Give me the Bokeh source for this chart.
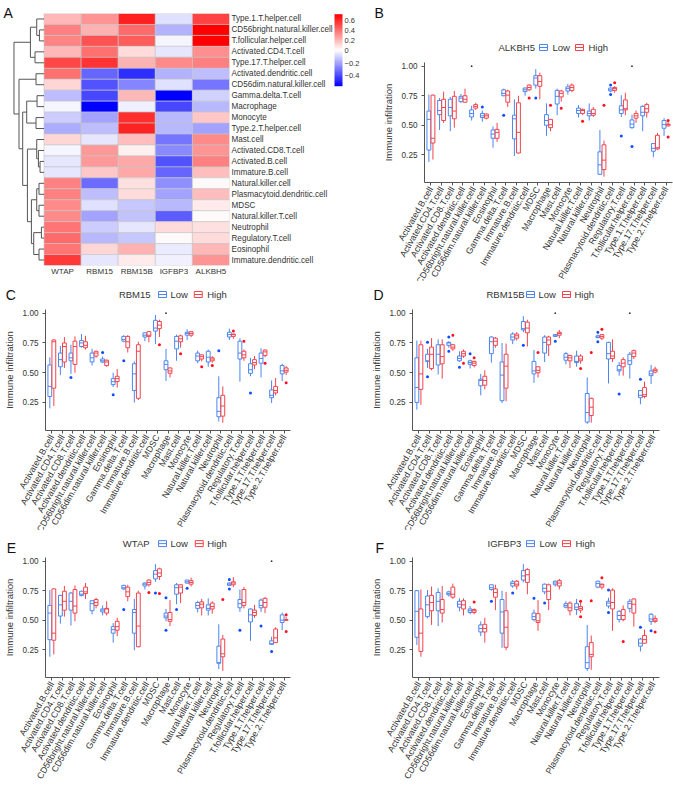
from bokeh.plotting import figure
from bokeh.layouts import row, column
from bokeh.models import (Range1d, FixedTicker, LinearAxis, LinearColorMapper, ColorBar, ColumnDataSource)
from bokeh.core.properties import value
from bokeh.embed import file_html
from bokeh.resources import INLINE

FONT = "Liberation Sans"
genes = ["WTAP", "RBM15", "RBM15B", "IGFBP3", "ALKBH5"]
heat_rows = ["Type.1.T.helper.cell", "CD56bright.natural.killer.cell", "T.follicular.helper.cell",
             "Activated.CD4.T.cell", "Type.17.T.helper.cell", "Activated.dendritic.cell",
             "CD56dim.natural.killer.cell", "Gamma.delta.T.cell", "Macrophage", "Monocyte",
             "Type.2.T.helper.cell", "Mast.cell", "Activated.CD8.T.cell", "Activated.B.cell",
             "Immature.B.cell", "Natural.killer.cell", "Plasmacytoid.dendritic.cell", "MDSC",
             "Natural.killer.T.cell", "Neutrophil", "Regulatory.T.cell", "Eosinophil",
             "Immature.dendritic.cell"]
heat_values = [
    [.20, .30, .63, -.07, .53], [.36, .22, .42, -.17, .72], [.34, .48, .46, -.02, .72],
    [.20, .40, .10, -.05, .32], [.52, .57, .22, .33, .35], [.40, -.33, -.46, -.17, -.14],
    [.12, -.38, -.27, -.07, -.30], [-.14, -.40, .20, -.56, -.10], [-.02, -.56, -.03, -.40, -.16],
    [-.11, -.20, .58, -.16, .15], [-.18, -.14, .61, -.16, -.20], [.12, -.05, .18, -.30, .33],
    [-.02, .28, .04, -.25, .30], [-.05, .28, .24, -.38, .36], [-.06, .15, .24, -.33, .18],
    [.35, -.32, .09, -.24, .01], [.35, -.14, .10, -.20, .18], [.33, -.07, -.12, -.15, .06],
    [.33, -.20, -.13, -.35, .01], [.38, -.11, -.05, .10, .08], [.42, -.15, -.12, .01, .10],
    [.38, .12, .22, -.04, .20], [.55, -.05, .05, -.03, .30]]
# merge tree of the row dendrogram: (first leaf/node, second leaf/node, height)
dend_merges = [("L1", "L2", .153), ("L0", "N0", .243), ("L3", "L4", .30), ("N1", "N2", .453),
               ("L5", "L6", .267), ("L7", "L8", .233), ("L9", "L10", .267), ("N5", "N6", .577),
               ("L13", "L14", .133), ("L12", "N8", .187), ("L11", "N9", .243),
               ("L15", "L16", .167), ("L17", "L18", .167), ("N11", "N12", .243),
               ("L19", "L20", .087), ("L21", "L22", .167), ("N14", "N15", .343),
               ("N13", "N16", .42), ("N10", "N17", .553), ("N7", "N18", .71),
               ("N4", "N19", .833), ("N3", "N20", 1.0)]
cb_ticks = [-.4, -.2, 0, .2, .4, .6]
cb_labels = ["\u22120.4", "\u22120.2", "0", "0.2", "0.4", "0.6"]

cells = ["Activated.B.cell", "Activated.CD4.T.cell", "Activated.CD8.T.cell", "Activated.dendritic.cell",
         "CD56bright.natural.killer.cell", "CD56dim.natural.killer.cell", "Eosinophil", "Gamma.delta.T.cell",
         "Immature.B.cell", "Immature.dendritic.cell", "MDSC", "Macrophage", "Mast.cell", "Monocyte",
         "Natural.killer.T.cell", "Natural.killer.cell", "Neutrophil", "Plasmacytoid.dendritic.cell",
         "Regulatory.T.cell", "T.follicular.helper.cell", "Type.1.T.helper.cell", "Type.17.T.helper.cell",
         "Type.2.T.helper.cell"]

# each box: whisker low, q1, median, q3, whisker high
B_low = [[.19,.29,.55,.62,.76],[.46,.59,.625,.71,.73],[.45,.58,.65,.72,.74],[.69,.70,.73,.745,.765],[.54,.57,.60,.63,.665],[.53,.565,.58,.60,.625],[.31,.39,.425,.46,.49],[.745,.75,.77,.80,.81],[.24,.385,.555,.585,.72],[.75,.785,.80,.815,.82],[.81,.84,.90,.92,.975],[.41,.50,.54,.59,.685],[.585,.68,.745,.795,.81],[.76,.79,.81,.825,.85],[.565,.60,.625,.645,.67],[.54,.58,.60,.62,.685],[.08,.085,.165,.275,.46],[.78,.79,.80,.815,.82],[.57,.60,.63,.665,.755],[.47,.48,.51,.545,.59],[.45,.58,.61,.66,.67],[.23,.28,.305,.345,.35],[.41,.475,.505,.54,.56]]
B_high = [[.21,.35,.39,.755,.76],[.52,.54,.65,.72,.785],[.48,.555,.62,.745,.79],[.69,.695,.72,.75,.81],[.63,.645,.66,.675,.69],[.55,.56,.58,.595,.60],[.36,.39,.44,.465,.52],[.655,.695,.755,.79,.80],[.26,.265,.44,.69,.75],[.79,.80,.82,.84,.845],[.72,.83,.87,.92,.945],[.45,.48,.505,.55,.55],[.70,.74,.77,.79,.80],[.78,.795,.82,.84,.855],[.585,.60,.625,.635,.64],[.57,.585,.60,.635,.655],[.065,.125,.205,.335,.37],[.775,.795,.81,.82,.83],[.585,.63,.64,.715,.775],[.52,.56,.58,.60,.625],[.565,.61,.64,.675,.69],[.29,.30,.31,.415,.435],[.49,.495,.505,.51,.535]]
B_low_out = [(6,.655),(8,.585),(11,.73),(18,.84),(18,.76),(19,.41),(20,.32)]
B_high_out = [(10,.73),(12,.67),(13,.645),(15,.535),(17,.67),(18,.86),(23,.54),(23,.40)]
B_tiny = [(5,1.0),(20,1.0)]

C_low = [[.20,.30,.385,.565,.63],[.48,.55,.61,.665,.725],[.49,.60,.625,.665,.735],[.71,.72,.75,.77,.825],[.56,.59,.625,.665,.70],[.58,.59,.60,.615,.635],[.38,.40,.425,.45,.50],[.755,.765,.78,.805,.815],[.25,.35,.49,.575,.595],[.765,.80,.815,.835,.84],[.74,.85,.875,.94,.985],[.43,.525,.57,.60,.70],[.60,.70,.765,.805,.82],[.775,.815,.83,.84,.865],[.58,.60,.64,.665,.685],[.55,.59,.63,.68,.695],[.09,.13,.175,.29,.47],[.775,.80,.82,.84,.87],[.425,.615,.665,.765,.79],[.47,.495,.525,.575,.625],[.46,.58,.62,.665,.705],[.245,.29,.31,.355,.435],[.43,.49,.515,.56,.575]]
C_high = [[.22,.37,.76,.775,.78],[.54,.59,.72,.75,.80],[.50,.57,.72,.765,.805],[.695,.71,.73,.76,.81],[.625,.64,.665,.68,.685],[.55,.56,.59,.605,.61],[.375,.425,.45,.47,.53],[.67,.71,.76,.805,.815],[.27,.285,.68,.735,.76],[.755,.805,.815,.845,.85],[.80,.87,.90,.93,.945],[.46,.495,.515,.54,.545],[.71,.76,.785,.81,.82],[.80,.815,.83,.845,.85],[.595,.615,.635,.65,.655],[.585,.60,.615,.625,.64],[.08,.135,.22,.31,.385],[.785,.805,.82,.825,.825],[.60,.625,.65,.68,.695],[.53,.565,.585,.61,.64],[.63,.645,.675,.69,.695],[.31,.33,.35,.385,.455],[.48,.505,.52,.54,.555]]
C_low_out = [(3,.46),(6,.67),(7,.315),(8,.60),(17,.685),(20,.33)]
C_high_out = [(11,.735),(13,.66),(15,.55),(16,.56),(18,.85),(19,.765),(21,.58),(23,.415)]
C_tiny = [(12,1.0)]

D_low = [[.19,.25,.375,.625,.77],[.54,.595,.60,.655,.70],[.485,.565,.655,.735,.78],[.71,.73,.75,.755,.765],[.59,.60,.62,.64,.68],[.535,.57,.585,.60,.61],[.31,.39,.435,.445,.49],[.585,.66,.76,.80,.805],[.245,.265,.48,.59,.75],[.74,.775,.80,.825,.84],[.84,.86,.87,.93,.975],[.415,.49,.515,.595,.69],[.59,.665,.755,.80,.815],[.80,.805,.81,.82,.82],[.57,.605,.63,.66,.675],[.55,.585,.595,.64,.685],[.07,.085,.165,.325,.46],[.79,.795,.80,.81,.82],[.41,.615,.66,.755,.76],[.475,.515,.525,.56,.59],[.45,.57,.60,.655,.675],[.235,.29,.31,.35,.35],[.405,.475,.49,.515,.565]]
D_high = [[.23,.36,.49,.735,.77],[.52,.535,.655,.715,.79],[.45,.575,.635,.735,.78],[.685,.70,.715,.735,.74],[.625,.64,.66,.68,.695],[.545,.56,.58,.595,.60],[.36,.395,.435,.47,.52],[.71,.73,.765,.79,.80],[.26,.37,.555,.655,.745],[.77,.79,.81,.825,.84],[.72,.835,.875,.925,.945],[.46,.50,.52,.55,.555],[.64,.735,.775,.80,.81],[.79,.815,.83,.84,.86],[.54,.60,.625,.645,.65],[.575,.60,.615,.64,.655],[.08,.14,.21,.285,.29],[.775,.79,.805,.82,.825],[.59,.62,.64,.68,.78],[.475,.55,.58,.61,.63],[.615,.635,.665,.685,.695],[.285,.30,.315,.375,.425],[.495,.505,.52,.53,.55]]
D_low_out = [(2,.755),(2,.465),(4,.80),(4,.68),(5,.545),(6,.66),(11,.73),(14,.765),(18,.84),(18,.76),(20,.32),(22,.445)]
D_high_out = [(4,.815),(5,.58),(6,.625),(12,.67),(16,.535),(17,.67),(18,.865)]
D_tiny = [(14,1.0),(21,1.0)]

E_low = [[.19,.335,.56,.625,.755],[.47,.535,.63,.71,.715],[.455,.585,.66,.73,.74],[.70,.71,.72,.745,.75],[.55,.58,.64,.665,.67],[.54,.57,.585,.595,.625],[.31,.39,.42,.445,.475],[.755,.765,.775,.795,.80],[.245,.39,.565,.59,.68],[.76,.79,.805,.815,.82],[.825,.85,.89,.92,.975],[.49,.52,.535,.56,.595],[.635,.72,.775,.80,.815],[.81,.815,.825,.84,.84],[.565,.60,.625,.65,.665],[.54,.585,.60,.63,.685],[.085,.135,.14,.28,.465],[.79,.795,.805,.815,.82],[.57,.605,.64,.675,.76],[.325,.485,.545,.595,.60],[.57,.605,.625,.67,.685],[.295,.295,.30,.325,.36],[.415,.48,.50,.545,.565]]
E_high = [[.21,.33,.39,.765,.77],[.53,.585,.66,.745,.79],[.49,.56,.62,.76,.795],[.68,.725,.74,.78,.815],[.60,.625,.65,.675,.69],[.54,.56,.595,.60,.66],[.365,.415,.445,.49,.52],[.66,.70,.74,.78,.80],[.27,.275,.45,.73,.75],[.785,.80,.82,.84,.845],[.84,.87,.90,.935,.945],[.45,.49,.505,.565,.67],[.645,.73,.78,.80,.805],[.785,.805,.82,.835,.86],[.54,.605,.635,.655,.68],[.555,.595,.615,.645,.66],[.07,.19,.215,.34,.375],[.78,.80,.815,.825,.865],[.60,.625,.65,.76,.78],[.52,.54,.565,.585,.63],[.56,.61,.65,.685,.695],[.31,.31,.35,.425,.44],[.495,.50,.50,.505,.53]]
E_low_out = [(8,.59),(11,.73),(12,.69),(12,.415),(13,.59),(14,.77),(18,.845),(18,.765),(19,.415),(21,.45),(22,.235)]
E_high_out = [(10,.735),(11,.725),(17,.675),(23,.545),(23,.405)]
E_tiny = [(22,1.0)]

F_low = [[.29,.355,.575,.75,.755],[.515,.53,.63,.705,.755],[.45,.58,.66,.735,.77],[.70,.715,.725,.74,.75],[.575,.61,.635,.66,.685],[.55,.565,.58,.595,.62],[.365,.40,.43,.46,.49],[.75,.76,.775,.80,.80],[.265,.39,.57,.675,.75],[.775,.79,.81,.825,.84],[.82,.84,.875,.92,.975],[.49,.505,.53,.56,.59],[.72,.74,.77,.805,.81],[.785,.80,.815,.83,.835],[.60,.61,.625,.64,.66],[.545,.59,.61,.64,.68],[.07,.09,.14,.275,.46],[.77,.78,.81,.83,.835],[.60,.62,.645,.66,.69],[.48,.505,.54,.575,.585],[.565,.60,.64,.66,.68],[.235,.28,.305,.34,.35],[.46,.49,.51,.55,.56]]
F_high = [[.19,.235,.39,.595,.76],[.46,.58,.65,.71,.785],[.48,.56,.59,.675,.79],[.68,.695,.72,.78,.81],[.54,.595,.63,.665,.685],[.55,.565,.58,.59,.60],[.31,.40,.43,.465,.52],[.585,.695,.735,.765,.80],[.245,.27,.44,.58,.74],[.76,.79,.805,.83,.84],[.72,.82,.885,.93,.94],[.41,.48,.495,.555,.67],[.585,.675,.745,.80,.81],[.76,.79,.815,.835,.85],[.54,.58,.605,.645,.66],[.56,.585,.60,.615,.65],[.08,.19,.21,.31,.37],[.76,.78,.80,.805,.81],[.41,.595,.65,.755,.77],[.49,.505,.54,.59,.625],[.445,.56,.635,.68,.685],[.30,.305,.335,.37,.42],[.475,.49,.50,.515,.54]]
F_low_out = [(8,.66),(10,.73),(12,.685),(13,.645),(19,.755),(19,.565),(22,.44),(23,.41)]
F_high_out = [(6,.655),(16,.66),(16,.53),(17,.665),(18,.86),(20,.32),(23,.40)]
F_tiny = []

LOW, HIGH = "#4b86f0", "#f4434c"
LOW_PT, HIGH_PT = "#0f4dff", "#ff1020"
AXC = "#555555"
TXT = "#333333"


def free_text(p, x, y, s, size, color=TXT):
    p.text([x], [y], text=[s], text_font=value(FONT), text_font_size=value(size), text_color=color,
           text_align="left", text_baseline="middle", level="overlay")


def panel(gene, tag, low, high, low_out, high_out, tiny, W, H, left, right, top, bottom,
          y100_offset, unit, gene_x, key_xs, text_xs, leg_y, letter_xy):
    fw, fh = W - left - right, H - top - bottom
    ytop = 1 + y100_offset / unit
    ybot = ytop - fh / unit
    p = figure(width=W, height=H, output_backend="svg", toolbar_location=None,
               x_range=Range1d(0.4, 23.6), y_range=Range1d(ybot, ytop),
               min_border_left=left, min_border_right=right, min_border_top=top, min_border_bottom=bottom,
               background_fill_color="white", border_fill_color="white", outline_line_color=None,
               frame_align=False)
    p.grid.visible = False
    to_x = lambda px: 0.4 + (px - left) / fw * 23.2
    to_y = lambda py: ytop - (py - top) / unit
    for vals, off, col, out, ptcol in ((low, -.19, LOW, low_out, LOW_PT), (high, .19, HIGH, high_out, HIGH_PT)):
        xs = [i + 1 + off for i in range(len(vals))]
        src = ColumnDataSource(dict(x=xs, wl=[v[0] for v in vals], q1=[v[1] for v in vals], med=[v[2] for v in vals],
                                    q3=[v[3] for v in vals], wh=[v[4] for v in vals],
                                    x0=[x - .18 for x in xs], x1=[x + .18 for x in xs]))
        p.segment(x0="x", x1="x", y0="wl", y1="q1", source=src, line_color=col, line_width=1)
        p.segment(x0="x", x1="x", y0="q3", y1="wh", source=src, line_color=col, line_width=1)
        p.vbar(x="x", width=.36, bottom="q1", top="q3", source=src, fill_color="white", line_color=col, line_width=1)
        p.segment(x0="x0", x1="x1", y0="med", y1="med", source=src, line_color=col, line_width=1)
        if out:
            p.scatter([c + off for c, _ in out], [v for _, v in out], size=3, color=ptcol, line_width=0)
    if tiny:
        p.scatter([c - .19 for c, _ in tiny], [v for _, v in tiny], size=1.8, color="#333333", line_width=0)
    xa = p.xaxis[0]
    xa.ticker = FixedTicker(ticks=list(range(1, 24)))
    xa.major_label_overrides = {i + 1: c for i, c in enumerate(cells)}
    xa.major_label_orientation = 1.05
    xa.major_label_text_font = FONT
    xa.major_label_text_font_size = "8.9px"
    xa.major_label_text_color = TXT
    xa.major_label_standoff = 2
    xa.major_tick_in = 0
    xa.major_tick_out = 3
    xa.minor_tick_line_color = None
    xa.axis_line_color = AXC
    xa.major_tick_line_color = AXC
    xa.axis_line_width = 1
    ya = p.yaxis[0]
    ya.ticker = FixedTicker(ticks=[.25, .5, .75, 1.0])
    ya.major_label_overrides = {.25: "0.25", .5: "0.50", .75: "0.75", 1: "1.00"}
    ya.major_label_text_font = FONT
    ya.major_label_text_font_size = "8.2px"
    ya.major_label_text_color = TXT
    ya.major_label_standoff = 4
    ya.major_tick_in = 0
    ya.major_tick_out = 3
    ya.minor_tick_line_color = None
    ya.axis_line_color = AXC
    ya.major_tick_line_color = AXC
    ya.axis_label = "Immune infiltration"
    ya.axis_label_text_font = FONT
    ya.axis_label_text_font_style = "normal"
    ya.axis_label_text_font_size = "9.5px"
    ya.axis_label_text_color = TXT
    ya.axis_label_standoff = 5
    # legend row above the frame
    free_text(p, to_x(gene_x), to_y(leg_y), gene, "9.5px")
    for kx, tx, name, col in zip(key_xs, text_xs, ("Low", "High"), (LOW, HIGH)):
        p.rect([to_x(kx + 4)], [to_y(leg_y)], width=8 / fw * 23.2, height=6 / unit, fill_color="white",
               line_color=col, line_width=1, level="overlay")
        p.segment([to_x(kx)], [to_y(leg_y)], [to_x(kx + 8)], [to_y(leg_y)], line_color=col, line_width=1,
                  level="overlay")
        free_text(p, to_x(tx), to_y(leg_y), name, "9.5px")
    free_text(p, to_x(letter_xy[0]), to_y(letter_xy[1]), tag, "14px", "#111111")
    return p


# ---- panel A
AW, AH = 370, 292
al, ar, at, ab = 12, 141, 13, 27
unit_x = (AW - al - ar) / 5.85
unit_y = (AH - at - ab) / 23
a = figure(width=AW, height=AH, output_backend="svg", toolbar_location=None,
           x_range=Range1d(-.85, 5), y_range=Range1d(23, 0),
           min_border_left=al, min_border_right=ar, min_border_top=at, min_border_bottom=ab,
           background_fill_color="white", border_fill_color="white", outline_line_color=None,
           frame_align=False)
a.grid.visible = False


def norm(v):
    return v / .72 if v >= 0 else v / .56


def ramp():
    pal = []
    n = 50
    for i in range(n + 1):
        g = round(255 * i / n)
        pal.append("#%02x%02xff" % (g, g))
    for i in range(1, n + 1):
        g = round(255 * (1 - i / n))
        pal.append("#ff%02x%02x" % (g, g))
    return pal


mapper = LinearColorMapper(palette=ramp(), low=-1, high=1)
hx, hy, hv = [], [], []
for r, vals in enumerate(heat_values):
    for c, v in enumerate(vals):
        hx.append(c + .5)
        hy.append(r + .5)
        hv.append(norm(v))
a.rect(x="x", y="y", width=1, height=1, source=ColumnDataSource(dict(x=hx, y=hy, v=hv)),
       fill_color=dict(field="v", transform=mapper), line_color="#c4c4c4", line_width=.6)

pos, hgt, xs_d, ys_d = {}, {}, [], []
DEND_W = .81
for k in range(len(heat_rows)):
    pos["L%d" % k] = k + .5
    hgt["L%d" % k] = 0.0
for k, (l, r_, h) in enumerate(dend_merges):
    xs_d.append([-DEND_W * hgt[l], -DEND_W * h, -DEND_W * h, -DEND_W * hgt[r_]])
    ys_d.append([pos[l], pos[l], pos[r_], pos[r_]])
    pos["N%d" % k] = (pos[l] + pos[r_]) / 2
    hgt["N%d" % k] = h
a.multi_line(xs_d, ys_d, line_color="#555555", line_width=1)

xa = a.xaxis[0]
xa.ticker = FixedTicker(ticks=[.5, 1.5, 2.5, 3.5, 4.5])
xa.major_label_overrides = {i + .5: g for i, g in enumerate(genes)}
xa.major_label_text_font = FONT
xa.major_label_text_font_size = "8px"
xa.major_label_text_color = TXT
xa.major_label_standoff = 1
xa.major_tick_in = 0
xa.major_tick_out = 0
xa.axis_line_color = None
xa.major_tick_line_color = None
xa.minor_tick_line_color = None
a.yaxis.visible = False
ra = LinearAxis(ticker=FixedTicker(ticks=[k + .5 for k in range(len(heat_rows))]),
                major_label_overrides={k + .5: n for k, n in enumerate(heat_rows)},
                major_label_text_font=FONT, major_label_text_font_size="8.15px", major_label_text_color=TXT,
                major_label_standoff=2, major_tick_in=0, major_tick_out=0, axis_line_color=None,
                major_tick_line_color=None, minor_tick_line_color=None)
a.add_layout(ra, "right")
cb = ColorBar(color_mapper=mapper, ticker=FixedTicker(ticks=[norm(v) for v in cb_ticks]),
              major_label_overrides={norm(v): s for v, s in zip(cb_ticks, cb_labels)},
              major_label_text_font=FONT, major_label_text_font_size="7.5px", major_label_text_color=TXT,
              major_tick_line_color=None, bar_line_color=None, width=8, height=72, padding=0, margin=0,
              label_standoff=2, background_fill_alpha=0, border_line_color=None,
              location=(334 - al, 265 - 85.7), level="overlay")
a.add_layout(cb, "center")
free_text(a, -.85 + (3 - al) / unit_x, (12 - at) / unit_y, "A", "14px", "#111111")

b = panel("ALKBH5", "B", B_low, B_high, B_low_out, B_high_out, B_tiny, 303, 297, 54, 1, 62, 115,
          3.7, 118.13, 128, (169, 205), (182, 218), 47, (4, 12))
c = panel("RBM15", "C", C_low, C_high, C_low_out, C_high_out, C_tiny, 340, 265, 43, 50, 29, 115,
          3.7, 119.0, 117, (157, 193), (169, 206), 14, (3, 14))
d = panel("RBM15B", "D", D_low, D_high, D_low_out, D_high_out, D_tiny, 333, 265, 72, 14, 29, 115,
          3.7, 119.0, 146, (186, 222), (198, 234), 14, (33, 14))
e = panel("WTAP", "E", E_low, E_high, E_low_out, E_high_out, E_tiny, 340, 257, 43, 50, 28, 108,
          3.7, 119.0, 121, (157, 194), (169, 206), 14, (4, 18))
f = panel("IGFBP3", "F", F_low, F_high, F_low_out, F_high_out, F_tiny, 333, 257, 72, 14, 28, 108,
          3.7, 119.0, 147, (186, 222), (199, 235), 14, (35, 18))

r1 = row(a, b, margin=(0, 0, -17, 0), spacing=0)
r2 = row(c, d, margin=(0, 0, -16, 0), spacing=0)
r3 = row(e, f, margin=0, spacing=0)
page = column(r1, r2, r3, margin=0, spacing=0)
open("out.html", "w").write(file_html(page, INLINE))
